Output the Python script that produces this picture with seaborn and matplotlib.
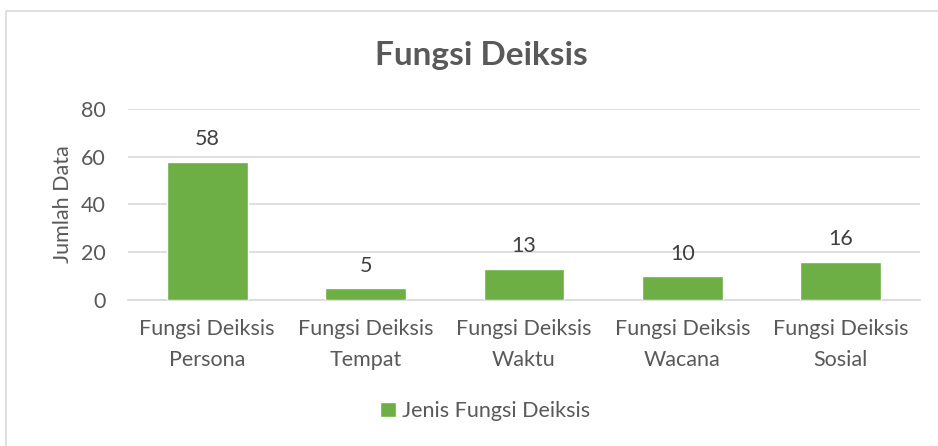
import matplotlib
matplotlib.use("Agg")
import matplotlib.pyplot as plt
import seaborn as sns
import pandas as pd
from matplotlib.patches import Rectangle

categories = ["Fungsi Deiksis\nPersona", "Fungsi Deiksis\nTempat", "Fungsi Deiksis\nWaktu",
              "Fungsi Deiksis\nWacana", "Fungsi Deiksis\nSosial"]
values = [58, 5, 13, 10, 16]
series_name = "Jenis Fungsi Deiksis"
yticks = [0, 20, 40, 60, 80]

sns.set_theme(style="white")
plt.rcParams['font.family'] = ['Lato', 'DejaVu Sans']
text_color = "#595959"
fs = 15.5

df = pd.DataFrame({"cat": categories, "val": values, "series": series_name})

fig = plt.figure(figsize=(9.38, 4.46), dpi=100)
ax = fig.add_axes([128/938, 1-300/446, (920-128)/938, (300-109)/446])

sns.barplot(data=df, x="cat", y="val", hue="series", palette=["#6DAE45"],
            saturation=1, width=0.51, ax=ax, zorder=3, legend=True)

ax.set_ylim(0, 80)
ax.set_xlim(-0.5, 4.5)
ax.set_yticks(yticks)
ax.yaxis.grid(True, color="#D9D9D9", linewidth=1.2, zorder=0)
ax.set_axisbelow(True)
for s in ["top", "right", "left"]:
    ax.spines[s].set_visible(False)
ax.spines["bottom"].set_color("#D9D9D9")
ax.spines["bottom"].set_linewidth(1.2)
ax.tick_params(axis="both", length=0, colors=text_color, labelsize=fs)
ax.tick_params(axis="y", pad=16)
ax.tick_params(axis="x", pad=14)
ax.set_xlabel("")
ax.set_ylabel("Jumlah Data", color=text_color, fontsize=fs, labelpad=6)
for lbl in ax.get_xticklabels():
    lbl.set_linespacing(1.65)

for c in ax.containers:
    ax.bar_label(c, labels=[str(v) for v in values], padding=9, fontsize=fs, color="#404040")

leg = ax.legend(frameon=False, fontsize=fs, handlelength=0.75, handleheight=0.75,
                handletextpad=0.3, loc="center",
                bbox_to_anchor=(485/938, 1-411/446), bbox_transform=fig.transFigure)
for t in leg.get_texts():
    t.set_color(text_color)

fig.text(481/938, 1-55/446, "Fungsi Deiksis", ha="center", va="center",
         fontsize=24, fontweight="bold", color=text_color)

fig.patches.append(Rectangle((6/938, -0.05), 1.1, 1-11/446+0.05, transform=fig.transFigure,
                             fill=False, edgecolor="#D9D9D9", linewidth=1.2))

fig.savefig("out.png", dpi=100)
